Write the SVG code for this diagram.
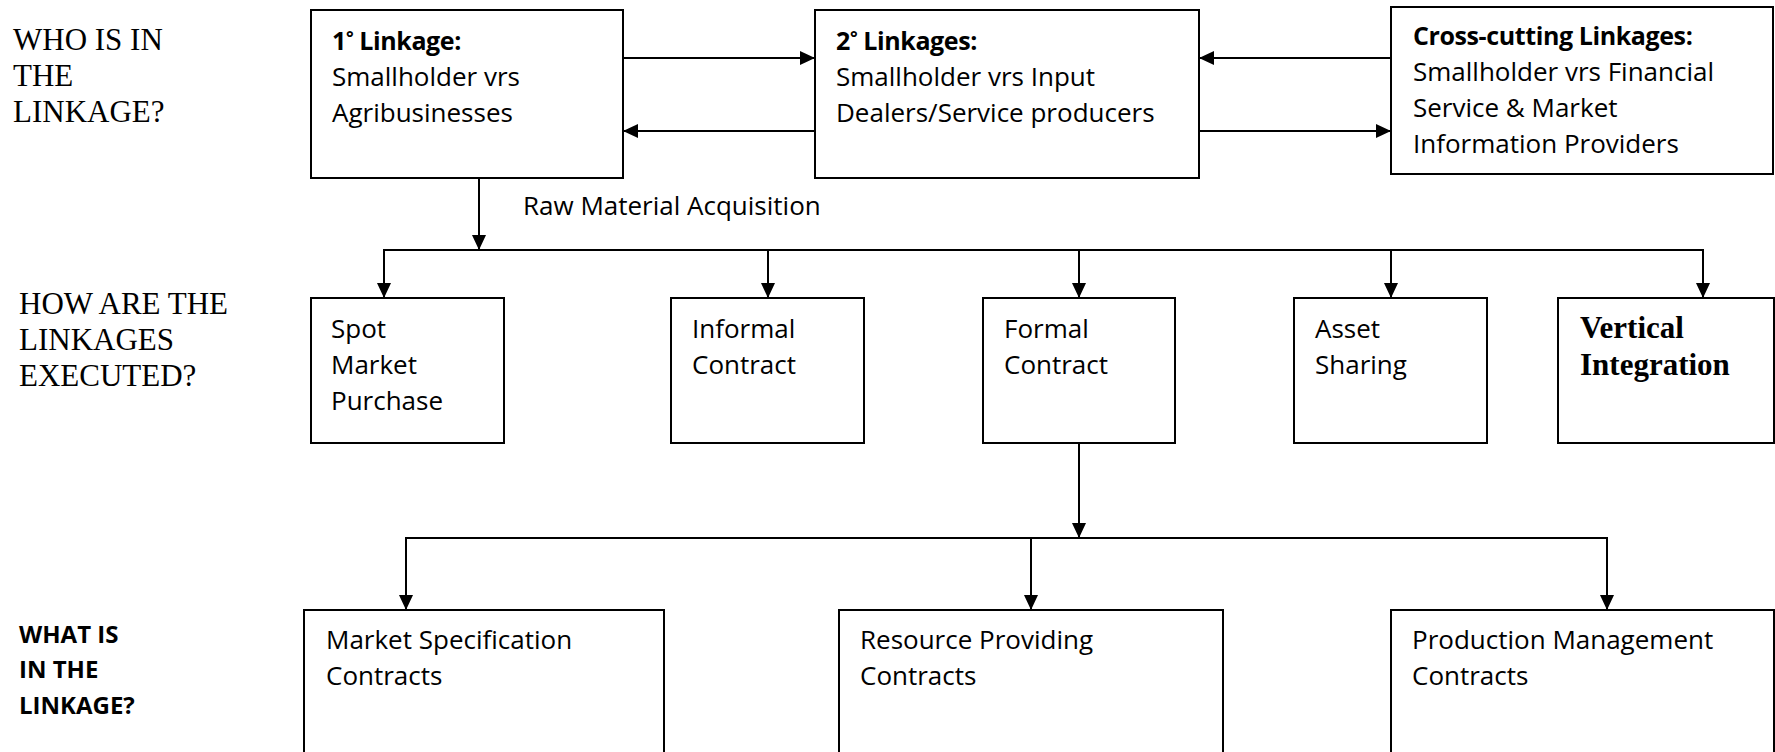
<svg xmlns="http://www.w3.org/2000/svg" width="1775" height="752" viewBox="0 0 1775 752">
<style>
.box{fill:#fff;stroke:#000;stroke-width:2}
.t{font-family:"Open Sans","Noto Sans",sans-serif;font-size:26px;fill:#000}
.h{font-family:"Open Sans","Noto Sans",sans-serif;font-size:25px;font-weight:bold;letter-spacing:-0.4px;fill:#000}
.serif{font-family:"Liberation Serif","Times New Roman",serif;font-size:31px;fill:#000}
.sb{font-weight:bold}
.lbl{font-family:"Open Sans","Noto Sans",sans-serif;font-size:24px;font-weight:bold;fill:#000}
.c{fill:none;stroke:#000;stroke-width:2}
</style>
<defs>
<marker id="ah" markerUnits="userSpaceOnUse" markerWidth="16" markerHeight="14" refX="15" refY="7" orient="auto">
<path d="M0,0 L15,7 L0,14 z" fill="#000"/>
</marker>
</defs>
<rect width="1775" height="752" fill="#fff"/>
<g id="label-who">
<text class="serif" x="13" y="50">WHO IS IN</text>
<text class="serif" x="13" y="86">THE</text>
<text class="serif" x="13" y="122">LINKAGE?</text>
</g>
<g id="label-how">
<text class="serif" x="19" y="314">HOW ARE THE</text>
<text class="serif" x="19" y="350">LINKAGES</text>
<text class="serif" x="19" y="386">EXECUTED?</text>
</g>
<g id="label-what">
<text class="lbl" x="19" y="643">WHAT IS</text>
<text class="lbl" x="19" y="678">IN THE</text>
<text class="lbl" x="19" y="714">LINKAGE?</text>
</g>
<g id="connectors">
<line class="c" x1="623" y1="58" x2="815" y2="58" marker-end="url(#ah)"/>
<line class="c" x1="815" y1="131" x2="623" y2="131" marker-end="url(#ah)"/>
<line class="c" x1="1391" y1="58" x2="1199" y2="58" marker-end="url(#ah)"/>
<line class="c" x1="1199" y1="131" x2="1391" y2="131" marker-end="url(#ah)"/>
<line class="c" x1="479" y1="178" x2="479" y2="250" marker-end="url(#ah)"/>
<polyline class="c" points="384,298 384,250 1703,250 1703,298" marker-end="url(#ah)"/>
<line class="c" x1="384" y1="250" x2="384" y2="298" marker-end="url(#ah)"/>
<line class="c" x1="768" y1="250" x2="768" y2="298" marker-end="url(#ah)"/>
<line class="c" x1="1079" y1="250" x2="1079" y2="298" marker-end="url(#ah)"/>
<line class="c" x1="1391" y1="250" x2="1391" y2="298" marker-end="url(#ah)"/>
<line class="c" x1="1079" y1="443" x2="1079" y2="538" marker-end="url(#ah)"/>
<polyline class="c" points="406,610 406,538 1607,538 1607,610" marker-end="url(#ah)"/>
<line class="c" x1="406" y1="538" x2="406" y2="610" marker-end="url(#ah)"/>
<line class="c" x1="1031" y1="538" x2="1031" y2="610" marker-end="url(#ah)"/>
<text class="t" x="523" y="215">Raw Material Acquisition</text>
</g>
<g id="primary">
<rect class="box" x="311" y="10" width="312" height="168"/>
<text class="h" x="332" y="50">1<tspan font-size="18" dy="-6">°</tspan><tspan dy="6"> Linkage:</tspan></text>
<text class="t" x="332" y="86">Smallholder vrs</text>
<text class="t" x="332" y="122">Agribusinesses</text>
</g>
<g id="secondary">
<rect class="box" x="815" y="10" width="384" height="168"/>
<text class="h" x="836" y="50">2<tspan font-size="18" dy="-6">°</tspan><tspan dy="6"> Linkages:</tspan></text>
<text class="t" x="836" y="86">Smallholder vrs Input</text>
<text class="t" x="836" y="122">Dealers/Service producers</text>
</g>
<g id="crosscutting">
<rect class="box" x="1391" y="7" width="382" height="167"/>
<text class="h" x="1413" y="45">Cross-cutting Linkages:</text>
<text class="t" x="1413" y="81">Smallholder vrs Financial</text>
<text class="t" x="1413" y="117">Service &amp; Market</text>
<text class="t" x="1413" y="153">Information Providers</text>
</g>
<g id="spot">
<rect class="box" x="311" y="298" width="193" height="145"/>
<text class="t" x="331" y="338">Spot</text>
<text class="t" x="331" y="374">Market</text>
<text class="t" x="331" y="410">Purchase</text>
</g>
<g id="informal">
<rect class="box" x="671" y="298" width="193" height="145"/>
<text class="t" x="692" y="338">Informal</text>
<text class="t" x="692" y="374">Contract</text>
</g>
<g id="formal">
<rect class="box" x="983" y="298" width="192" height="145"/>
<text class="t" x="1004" y="338">Formal</text>
<text class="t" x="1004" y="374">Contract</text>
</g>
<g id="asset">
<rect class="box" x="1294" y="298" width="193" height="145"/>
<text class="t" x="1315" y="338">Asset</text>
<text class="t" x="1315" y="374">Sharing</text>
</g>
<g id="vertical">
<rect class="box" x="1558" y="298" width="216" height="145"/>
<text class="serif sb" x="1580" y="338">Vertical</text>
<text class="serif sb" x="1580" y="375">Integration</text>
</g>
<g id="market-spec">
<rect class="box" x="304" y="610" width="360" height="160"/>
<text class="t" x="326" y="649">Market Specification</text>
<text class="t" x="326" y="685">Contracts</text>
</g>
<g id="resource">
<rect class="box" x="839" y="610" width="384" height="160"/>
<text class="t" x="860" y="649">Resource Providing</text>
<text class="t" x="860" y="685">Contracts</text>
</g>
<g id="production">
<rect class="box" x="1391" y="610" width="383" height="160"/>
<text class="t" x="1412" y="649">Production Management</text>
<text class="t" x="1412" y="685">Contracts</text>
</g>
</svg>
